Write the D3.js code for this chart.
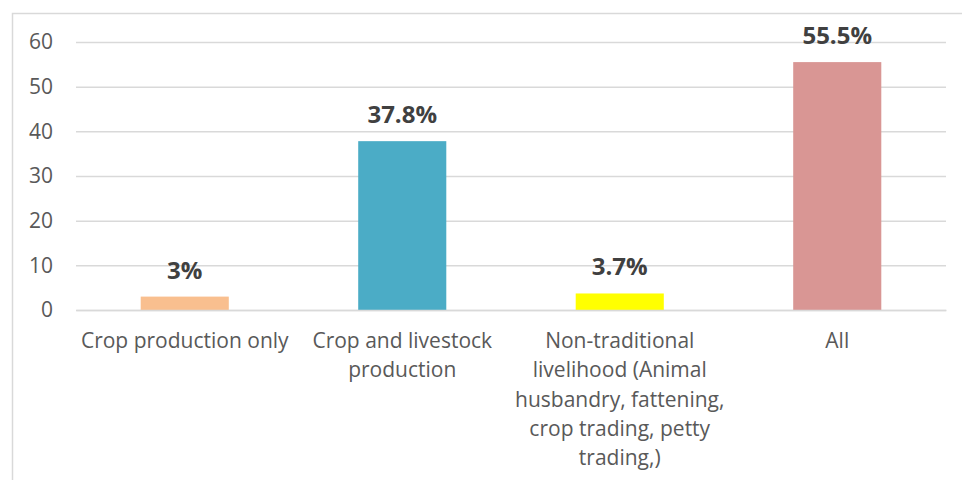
<!DOCTYPE html>
<html><head><meta charset="utf-8">
<script src="https://cdn.jsdelivr.net/npm/d3@7"></script>
<style>body{margin:0;background:#fff;} text{font-family:"Open Sans",sans-serif;}</style>
</head><body><svg id="c" width="962" height="480"></svg>
<script>
const categories = ["Crop production only", "Crop and livestock production", "Non-traditional livelihood (Animal husbandry, fattening, crop trading, petty trading,)", "All"];
const values = [3, 37.8, 3.7, 55.5];
const valueLabels = ["3%", "37.8%", "3.7%", "55.5%"];
const colors = ["#F9BF8F", "#4BACC6", "#FFFF00", "#D99694"];
const yTicks = [0, 10, 20, 30, 40, 50, 60];

const svg = d3.select("#c");
svg.append("rect").attr("x", 12.5).attr("y", 13.5).attr("width", 960).attr("height", 480)
  .attr("fill", "none").attr("stroke", "#D9D9D9").attr("stroke-width", 1.5);

const m = {l: 76, r: 946, t: 42, b: 310};
const x = d3.scaleBand().domain(categories).range([m.l, m.r]).paddingInner(0.595).paddingOuter(0.2975);
const y = d3.scaleLinear().domain([0, 60]).range([m.b, m.t]);

const yAxis = svg.append("g").attr("transform", `translate(${m.l},0)`)
  .call(d3.axisLeft(y).tickValues(yTicks).tickSize(-(m.r - m.l)).tickPadding(23));
yAxis.select(".domain").remove();
yAxis.selectAll(".tick line").attr("stroke", "#D9D9D9").attr("stroke-width", 1.5);
yAxis.selectAll(".tick text").attr("fill", "#595959").style("font-size", "21px").style("font-family", "'Open Sans',sans-serif");

svg.selectAll("rect.bar").data(values).join("rect").attr("class", "bar")
  .attr("x", (d, i) => x(categories[i])).attr("width", x.bandwidth())
  .attr("y", d => y(d)).attr("height", d => y(0) - y(d))
  .attr("fill", (d, i) => colors[i]);

svg.selectAll("text.vl").data(values).join("text").attr("class", "vl")
  .attr("x", (d, i) => x(categories[i]) + x.bandwidth() / 2)
  .attr("y", d => y(d) - 18)
  .attr("text-anchor", "middle").attr("fill", "#404040")
  .style("font-size", "24px").style("font-weight", "bold")
  .text((d, i) => valueLabels[i]);

const xAxis = svg.append("g").attr("transform", `translate(0,${m.b})`)
  .call(d3.axisBottom(x).tickSize(0).tickPadding(0));
xAxis.select(".domain").attr("stroke", "#D9D9D9").attr("stroke-width", 1.5);
xAxis.selectAll(".tick text").attr("fill", "#595959").style("font-size", "21px")
  .each(function(d) {
    const t = d3.select(this);
    const words = d.split(" ");
    t.text(null);
    const maxW = 216;
    let lines = [], cur = [];
    const tmp = t.append("tspan");
    words.forEach(w => {
      cur.push(w);
      tmp.text(cur.join(" "));
      if (tmp.node().getComputedTextLength() > maxW && cur.length > 1) {
        cur.pop(); lines.push(cur.join(" ")); cur = [w];
      }
    });
    lines.push(cur.join(" "));
    tmp.remove();
    lines.forEach((ln, i) => {
      t.append("tspan").attr("x", 0).attr("y", 38 + i * 29.3).attr("dy", 0).text(ln);
    });
  });
</script></body></html>
